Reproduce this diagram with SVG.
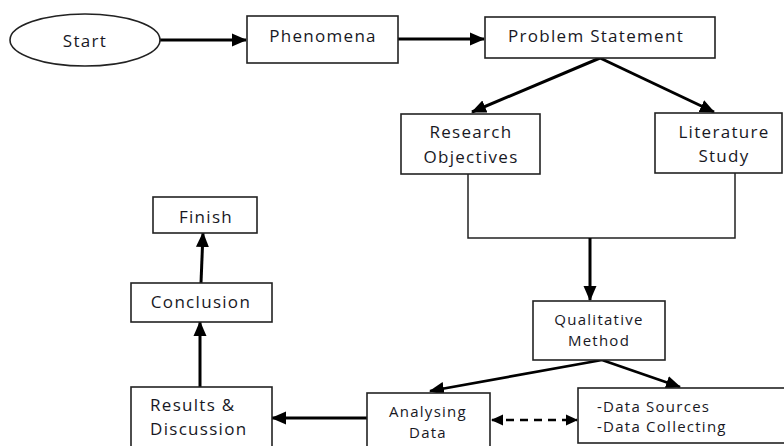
<svg xmlns="http://www.w3.org/2000/svg" width="784" height="446" viewBox="0 0 784 446">
<defs>
<marker id="ah" markerUnits="userSpaceOnUse" markerWidth="15" markerHeight="15" refX="14" refY="7.5" orient="auto-start-reverse" viewBox="0 0 15 15">
<path d="M0,1 L15,7.5 L0,14 z" fill="#000"/>
</marker>
<marker id="ahs" markerUnits="userSpaceOnUse" markerWidth="12" markerHeight="12" refX="11" refY="6" orient="auto-start-reverse" viewBox="0 0 12 12">
<path d="M0,0.5 L12,6 L0,11.5 z" fill="#000"/>
</marker>
<style>
.box{fill:#fff;stroke:#222;stroke-width:1.6}
.t{font-family:"Open Sans","Liberation Sans",sans-serif;font-size:17px;font-weight:500;letter-spacing:1.3px;fill:#18181f}
.s{font-size:15px;letter-spacing:1.25px}
.c{text-anchor:middle}
.thick{stroke:#000;stroke-width:3;fill:none}
.med{stroke:#000;stroke-width:2.6;fill:none}
.thin{stroke:#222;stroke-width:1.5;fill:none}
</style>
</defs>
<rect width="784" height="446" fill="#fff"/>
<g id="connectors">
<line class="thick" x1="160" y1="40" x2="246" y2="40" marker-end="url(#ah)"/>
<line class="thick" x1="398" y1="39" x2="484" y2="39" marker-end="url(#ah)"/>
<line class="thick" x1="600" y1="58" x2="472" y2="112" marker-end="url(#ah)"/>
<line class="thick" x1="600" y1="58" x2="714" y2="112" marker-end="url(#ah)"/>
<polyline class="thin" points="468,174 468,238 735,238 735,173"/>
<line class="thick" x1="590" y1="238" x2="590" y2="300" marker-end="url(#ah)"/>
<line class="med" x1="602" y1="360" x2="430" y2="391" marker-end="url(#ah)"/>
<line class="med" x1="602" y1="360" x2="680" y2="387" marker-end="url(#ah)"/>
<line class="med" x1="492" y1="420" x2="577" y2="420" stroke-dasharray="8,6" marker-start="url(#ahs)" marker-end="url(#ahs)"/>
<line class="thick" x1="367" y1="418" x2="272" y2="418" marker-end="url(#ah)"/>
<line class="thick" x1="200" y1="387" x2="200" y2="322" marker-end="url(#ah)"/>
<line class="thick" x1="201" y1="283" x2="203" y2="233" marker-end="url(#ah)"/>
</g>
<g id="start">
<ellipse class="box" cx="85" cy="40" rx="75" ry="26"/>
<text class="t c" x="85" y="47">Start</text>
</g>
<g id="phenomena">
<rect class="box" x="247" y="16" width="151" height="47"/>
<text class="t c" x="323" y="42">Phenomena</text>
</g>
<g id="problem-statement">
<rect class="box" x="485" y="17" width="230" height="41"/>
<text class="t c" x="596" y="42">Problem Statement</text>
</g>
<g id="research-objectives">
<rect class="box" x="401" y="114" width="139" height="60"/>
<text class="t c" x="471" y="138">Research</text>
<text class="t c" x="471" y="163">Objectives</text>
</g>
<g id="literature-study">
<rect class="box" x="655" y="113" width="127" height="60"/>
<text class="t c" x="724" y="138">Literature</text>
<text class="t c" x="724" y="162">Study</text>
</g>
<g id="qualitative-method">
<rect class="box" x="533" y="301" width="132" height="59"/>
<text class="t s c" x="599" y="325">Qualitative</text>
<text class="t s c" x="599" y="346">Method</text>
</g>
<g id="analysing-data">
<rect class="box" x="367" y="393" width="123" height="60"/>
<text class="t s c" x="428" y="417">Analysing</text>
<text class="t s c" x="428" y="438">Data</text>
</g>
<g id="data-sources">
<rect class="box" x="578" y="388" width="210" height="55"/>
<text class="t s" x="597" y="412">-Data Sources</text>
<text class="t s" x="597" y="432">-Data Collecting</text>
</g>
<g id="results-discussion">
<rect class="box" x="131" y="387" width="141" height="70"/>
<text class="t" x="150" y="411">Results &amp;</text>
<text class="t" x="150" y="435">Discussion</text>
</g>
<g id="conclusion">
<rect class="box" x="131" y="283" width="141" height="39"/>
<text class="t c" x="201" y="308">Conclusion</text>
</g>
<g id="finish">
<rect class="box" x="153" y="197" width="104" height="36"/>
<text class="t c" x="206" y="223">Finish</text>
</g>
</svg>
